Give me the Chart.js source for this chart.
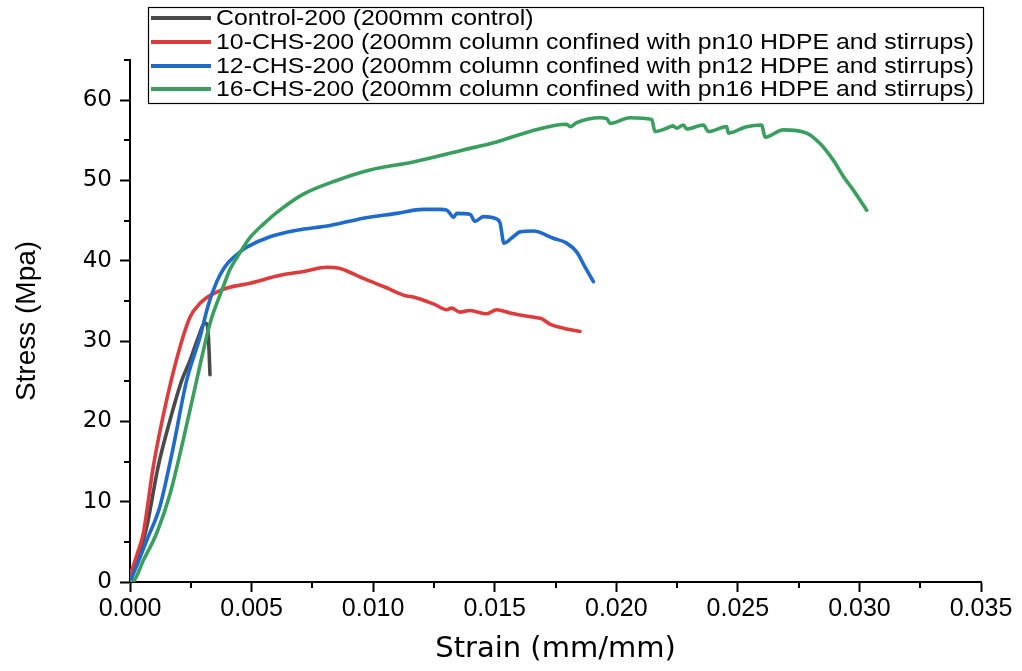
<!DOCTYPE html>
<html><head><meta charset="utf-8">
<script src="https://cdn.jsdelivr.net/npm/chart.js@4/dist/chart.umd.min.js"></script>
<style>html,body{margin:0;padding:0;background:#fff}#wrap{width:1022px;height:671px}</style>
</head><body><div id="wrap"><canvas id="c" width="1022" height="671"></canvas></div>
<script>
const seriesLabels = [
  "Control-200 (200mm control)",
  "10-CHS-200 (200mm column confined with pn10 HDPE and stirrups)",
  "12-CHS-200 (200mm column confined with pn12 HDPE and stirrups)",
  "16-CHS-200 (200mm column confined with pn16 HDPE and stirrups)"
];
const seriesColors = ["#4a4a4a", "#de3c3c", "#1f6bcb", "#3a9f5e"];

const controlStrain = [0, 0.0004, 0.00069, 0.00116, 0.00165, 0.00213, 0.00247, 0.0028, 0.00308, 0.00317, 0.00322, 0.00325, 0.00329];
const controlStress = [0, 3.8, 6.9, 14.4, 20.2, 25.1, 27.6, 30.4, 32.2, 32.1, 30.7, 28.9, 25.8];

const chs10Strain = [0, 0.0003, 0.00055, 0.00096, 0.00151, 0.00206, 0.00247, 0.00288, 0.00343, 0.00411, 0.00494, 0.00617, 0.0072, 0.00809, 0.00864, 0.0096, 0.0105, 0.01138, 0.01165, 0.0125, 0.01303, 0.01323, 0.01357, 0.01398, 0.01467, 0.01508, 0.01563, 0.01673, 0.01693, 0.01727, 0.01782, 0.01851];
const chs10Stress = [0.8, 3.5, 6.1, 14.4, 22.7, 29.3, 33.0, 34.7, 35.9, 36.7, 37.2, 38.2, 38.7, 39.2, 39.05, 37.8, 36.7, 35.6, 35.5, 34.6, 33.9, 34.1, 33.6, 33.8, 33.4, 33.9, 33.5, 32.9, 32.8, 32.1, 31.6, 31.2];

const chs12Strain = [0, 0.0003, 0.00069, 0.00123, 0.00178, 0.00233, 0.00288, 0.00322, 0.00357, 0.00385, 0.00411, 0.00452, 0.0048, 0.00576, 0.00686, 0.00823, 0.0096, 0.01097, 0.01206, 0.01275, 0.01303, 0.01316, 0.0133, 0.01344, 0.01398, 0.01419, 0.01453, 0.01508, 0.01522, 0.01538, 0.01576, 0.01604, 0.01659, 0.01741, 0.01796, 0.01837, 0.0187, 0.01906];
const chs12Stress = [0, 2.2, 5.2, 9.4, 16.8, 25.1, 30.5, 34.5, 37.4, 39.0, 40.0, 41.1, 41.7, 43.0, 43.8, 44.4, 45.3, 45.9, 46.4, 46.4, 46.3, 45.9, 45.4, 45.9, 45.8, 44.9, 45.5, 45.2, 44.7, 42.2, 43.0, 43.6, 43.7, 42.8, 42.2, 41.1, 39.3, 37.4];

const chs16Strain = [0, 0.00014, 0.00055, 0.0011, 0.00165, 0.00219, 0.00274, 0.00329, 0.00384, 0.00411, 0.00452, 0.00494, 0.0055, 0.00603, 0.00713, 0.0085, 0.00987, 0.01165, 0.01371, 0.01508, 0.01645, 0.01796, 0.0181, 0.01837, 0.01933, 0.01961, 0.01974, 0.02056, 0.02146, 0.02159, 0.02207, 0.02234, 0.02248, 0.02276, 0.0229, 0.02358, 0.02379, 0.02454, 0.02461, 0.02536, 0.02598, 0.02612, 0.02687, 0.02783, 0.02838, 0.02893, 0.02934, 0.02975, 0.0303];
const chs16Stress = [0, 0.1, 2.7, 6.1, 11.0, 17.7, 25.1, 32.2, 36.8, 38.9, 41.0, 42.9, 44.6, 46.0, 48.3, 50.0, 51.3, 52.3, 53.8, 54.8, 56.1, 57.0, 56.7, 57.2, 57.8, 57.7, 57.1, 57.8, 57.6, 56.1, 56.5, 56.8, 56.5, 56.9, 56.4, 56.9, 56.1, 56.7, 55.9, 56.7, 56.9, 55.4, 56.3, 55.9, 54.6, 52.5, 50.5, 48.8, 46.3];

const xMin = 0, xMax = 0.035, xStep = 0.0025;
const yMin = 0, yMax = 65, yStep = 5;

const strainSets = [controlStrain, chs10Strain, chs12Strain, chs16Strain];
const stressSets = [controlStress, chs10Stress, chs12Stress, chs16Stress];

function zip(xs, ys) { return xs.map((x, i) => ({x: x, y: ys[i]})); }

const datasets = seriesLabels.map((lab, i) => ({
  label: lab,
  data: zip(strainSets[i], stressSets[i]),
  borderColor: seriesColors[i],
  backgroundColor: seriesColors[i],
  borderWidth: 3.6,
  showLine: true,
  pointRadius: 0,
  pointHoverRadius: 0,
  cubicInterpolationMode: 'monotone',
  borderCapStyle: 'round',
  borderJoinStyle: 'round',
  fill: false,
  order: seriesLabels.length - i
}));

const isMajorX = v => Math.round(v / xStep) % 2 === 0;
const isMajorY = v => Math.round(v / yStep) % 2 === 0;

const minorTicks = {
  id: 'minorTicks',
  afterDraw(chart) {
    const ctx = chart.ctx, xs = chart.scales.x, ys = chart.scales.y;
    const a = chart.chartArea;
    ctx.save();
    ctx.strokeStyle = '#000';
    ctx.lineWidth = 2;
    ctx.beginPath();
    xs.ticks.forEach(t => {
      if (!isMajorX(t.value)) {
        const px = Math.round(xs.getPixelForValue(t.value));
        ctx.moveTo(px, a.bottom); ctx.lineTo(px, a.bottom + 6);
      }
    });
    ys.ticks.forEach(t => {
      if (!isMajorY(t.value)) {
        const py = Math.round(ys.getPixelForValue(t.value));
        ctx.moveTo(a.left, py); ctx.lineTo(a.left - 6, py);
      }
    });
    ctx.stroke();
    ctx.restore();
  }
};

const boxLegend = {
  id: 'boxLegend',
  afterDraw(chart) {
    const ctx = chart.ctx;
    const bx = 148, by = 7, bw = 835, bh = 96;
    const rowY = [18, 42, 66, 89];
    ctx.save();
    ctx.fillStyle = '#fff';
    ctx.fillRect(bx, by, bw, bh);
    ctx.strokeStyle = '#000';
    ctx.lineWidth = 1.2;
    ctx.strokeRect(bx + 0.5, by + 0.5, bw, bh);
    ctx.font = '22px "Liberation Sans", Arial, sans-serif';
    const longest = chart.data.datasets.reduce((m, d) => Math.max(m, ctx.measureText(d.label).width), 0);
    const sx = 758 / longest;
    chart.data.datasets.forEach((d, i) => {
      const y = rowY[i];
      ctx.strokeStyle = d.borderColor;
      ctx.lineWidth = 4;
      ctx.beginPath(); ctx.moveTo(151, y); ctx.lineTo(211, y); ctx.stroke();
      ctx.save();
      ctx.translate(216, y + 1);
      ctx.scale(sx, 1);
      ctx.fillStyle = '#000';
      ctx.textBaseline = 'middle';
      ctx.fillText(d.label, 0, 0);
      ctx.restore();
    });
    ctx.restore();
  }
};

new Chart(document.getElementById('c'), {
  type: 'scatter',
  data: { datasets: datasets },
  options: {
    responsive: false,
    animation: false,
    devicePixelRatio: 1,
    layout: { padding: { top: 60, right: 41, left: 0, bottom: 0 } },
    plugins: { legend: { display: false }, tooltip: { enabled: false } },
    scales: {
      x: {
        type: 'linear', min: xMin, max: xMax,
        afterFit: s => { s.height = 89; },
        ticks: {
          stepSize: xStep, autoSkip: false, maxRotation: 0, padding: 2, color: '#000',
          font: { family: '"Liberation Sans Narrow", "Liberation Sans", Arial, sans-serif', size: 25 },
          callback: v => isMajorX(v) ? v.toFixed(3) : ''
        },
        grid: { drawOnChartArea: false, drawTicks: true, tickLength: 10, tickWidth: 2,
                tickColor: c => (c.tick && isMajorX(c.tick.value)) ? '#000' : 'rgba(0,0,0,0)' },
        border: { display: true, color: '#000', width: 2 },
        title: { display: true, text: 'Strain (mm/mm)', color: '#000',
                 font: { family: '"DejaVu Sans", sans-serif', size: 29 }, padding: { top: 0, bottom: 4 } }
      },
      y: {
        type: 'linear', min: yMin, max: yMax,
        afterFit: s => { s.width = 130; },
        ticks: {
          stepSize: yStep, autoSkip: false, padding: 8, color: '#000',
          font: { family: '"DejaVu Sans", sans-serif', size: 23 },
          callback: v => isMajorY(v) ? String(v) : ''
        },
        grid: { drawOnChartArea: false, drawTicks: true, tickLength: 10, tickWidth: 2,
                tickColor: c => (c.tick && isMajorY(c.tick.value)) ? '#000' : 'rgba(0,0,0,0)' },
        border: { display: true, color: '#000', width: 2 },
        title: { display: true, text: 'Stress (Mpa)', color: '#000',
                 font: { family: '"Liberation Sans", Arial, sans-serif', size: 28 }, padding: { top: 10, bottom: 0 } }
      }
    }
  },
  plugins: [minorTicks, boxLegend]
});
</script></body></html>
